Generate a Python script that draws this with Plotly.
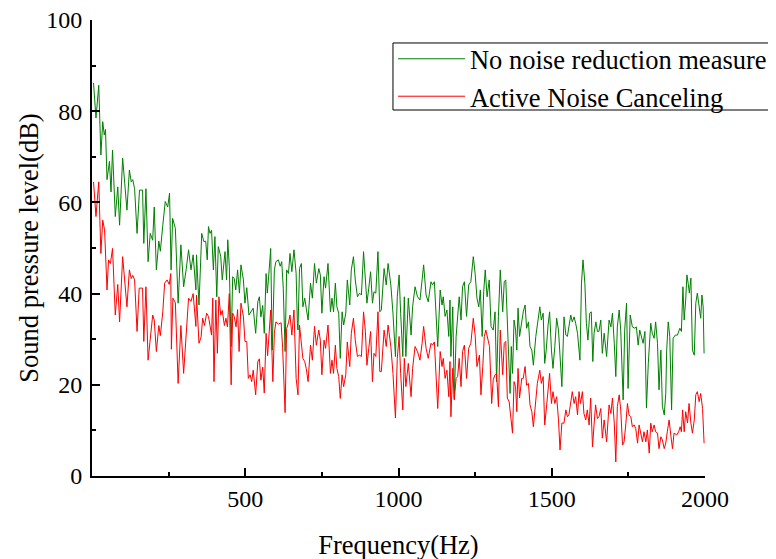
import plotly.graph_objects as go

# ---- data ----
green_freq = [5, 13, 22, 29, 35, 40, 44, 49, 57, 62, 67, 76, 84, 90, 100, 114, 122, 128, 133, 139,
              147, 155, 165, 169, 176, 183, 190, 198, 203, 210, 218, 223, 231, 239, 247, 253, 258, 263, 272, 281,
              290, 299, 307, 315, 323, 330, 339,
              341, 349, 358, 365, 371, 376, 380, 385, 390, 396, 401, 407, 412, 420, 425, 434, 439, 443, 448, 454,
              459, 464, 469, 475, 481, 486, 494, 499, 505, 512, 519, 526, 534, 541, 546, 551, 557, 562, 568, 572,
              578, 583, 588, 595, 600, 608, 614, 619, 624, 630, 635, 641, 646, 652, 659, 666, 670,
              672, 677, 683, 688, 694, 699, 705, 713, 719, 726, 732, 740, 745, 750, 757, 762, 770, 778, 783, 788,
              794, 799, 805, 810, 816, 821, 828, 833, 841, 846, 853, 859, 866, 873, 879, 886, 892, 897, 903, 909,
              915, 920, 926, 933, 939, 944, 953, 960, 966, 975, 982, 990, 996, 1002, 1007,
              1014, 1019, 1024, 1032, 1041, 1046, 1054, 1062, 1070, 1077, 1082, 1090, 1097, 1106, 1111, 1117, 1122,
              1128, 1136, 1142, 1146, 1152, 1158, 1164, 1168, 1171, 1177, 1182, 1188, 1193, 1198, 1204, 1209, 1215,
              1222, 1229, 1236, 1244, 1250, 1256, 1262, 1267, 1273, 1278, 1283, 1289, 1296, 1302, 1309, 1315, 1320,
              1326, 1332, 1340, 1345,
              1350, 1355, 1361, 1364, 1368, 1372, 1377, 1382, 1386, 1390, 1395, 1401, 1407, 1413, 1418, 1424, 1429,
              1435, 1440, 1448, 1453, 1461, 1466, 1472, 1477, 1482, 1488, 1493, 1499, 1504, 1510, 1516, 1522, 1527,
              1533, 1540, 1546, 1551, 1556, 1562, 1567, 1573, 1578, 1584, 1592, 1597, 1602, 1608, 1613, 1618, 1624,
              1629, 1634, 1638, 1644, 1649, 1654, 1660, 1665,
              1671, 1679, 1687, 1693, 1698, 1704, 1709, 1714, 1720, 1725, 1733, 1738, 1744, 1749, 1756, 1763, 1771,
              1776, 1782, 1787, 1793, 1798, 1804, 1809, 1815, 1823, 1828, 1834, 1839, 1845, 1850, 1856, 1861, 1867,
              1872, 1875, 1880, 1885, 1891, 1896, 1903, 1910, 1918, 1923, 1928, 1932, 1937, 1941, 1945, 1949, 1954,
              1959, 1965, 1970, 1975, 1981, 1986, 1990, 1994, 1997]
green_spl = [86.2, 78.5, 85.7, 70.4, 77.7, 74.8, 76, 65, 69, 62.3, 71.5, 56.9, 63.4, 55, 69.7, 58.3, 67.1, 64.5, 65, 63,
             53.2, 62.7, 62.7, 51, 63, 47, 53.2, 51.7, 59, 45.2, 51.5, 49.3, 55, 60.2, 59, 62, 45.2, 56.5, 54.3, 37.9,
             50.7, 41.5, 45.2, 49.6, 45.2, 48.5, 40.8,
             48.5, 37.5, 53.2, 51.4, 51.5, 47.4, 54.7, 53.2, 53.9, 45.2, 52.5, 39.3, 50.3, 48.2, 43, 49.2, 43, 51.8, 45.9, 28.4,
             43.7, 43.3, 40.8, 45.2, 40.1, 46.3, 43, 37.9, 41.3, 35.3, 36, 36.8, 31.3, 38.2, 39.3, 34.9, 37.4, 31.3, 44.4, 40.1,
             45.2, 49.9, 27.6, 45.2, 47, 47.4, 46, 47, 41.2, 27.3, 45.2, 44.4, 48.8, 44.8, 49.6, 44.4, 33.5,
             32.0, 45.5, 46.6, 37.1, 39, 36.8, 34.2, 42.3, 39, 46.6, 42.3, 45.5, 44.1, 35.7, 43.7, 41.2, 46.6, 36.0, 39, 36,
             42.3, 37.1, 35.7, 25.8, 36, 33.1, 35.7, 43, 37.5, 45.2, 48.1, 43, 39.3, 40.1, 39.7, 49.2, 43, 37.9, 41.2, 44.8,
             37.9, 40.4, 40.1, 49.2, 36, 36.4, 45.5, 41.9, 46.6, 41.9, 35.7, 26.2, 39.3, 44.1, 35.7,
             26.2, 39.3, 26.2, 39, 30.9, 37.1, 41.5, 39.3, 38.6, 43, 46.3, 39.7, 38.2, 42.6, 41.9, 42.6, 35.3,
             28.4, 40.8, 37.5, 39.3, 35, 36.4, 30.6, 38.6, 26.2, 37.1, 17.0, 30.6, 34.2, 39.3, 34.2, 41.5, 42.6,
             35, 41.9, 42.6, 48.1, 44.4, 39, 37.1, 40.8, 30.6, 40.4, 45.2, 39.3, 43, 32.8, 32, 36, 20.7,
             35, 45.2, 36, 42.6,
             43, 34.6, 25.8, 18.1, 28.4, 22.5, 34.2, 32, 27.6, 36.8, 30.6, 33.8, 36, 37.5, 32.4, 33.8, 28.4,
             27.6, 24.3, 30.6, 33.1, 37.1, 34.2, 35.7, 24.7, 27.6, 33.1, 36, 27.6, 23.6, 28.4, 34.6, 32, 26.9,
             19.6, 34.9, 30.9, 30.6, 32.7, 35.3, 33.8, 34.9, 33.5, 31.3, 25.4, 42.3, 47.4, 42.3, 33.5, 29.8, 35.7,
             36, 25.1, 31.3, 33.8, 31.7, 31.7, 34.2, 26.9,
             31.3, 26.2, 34.2, 32.7, 35.7, 29.1, 21.8, 32.7, 36.4, 32, 16.7, 32, 37.9, 19.2, 35.3, 32.7, 32.4,
             32.7, 28.7, 32, 30.6, 29.1, 31.7, 14.9, 24.7, 33.5, 31.3, 30.2, 33.8, 29.1, 18.9, 27.6, 15.2, 13.4,
             18.1, 27.6, 33.8, 30.6, 14.5, 30.2, 30.9, 30.9, 32.4, 31.7, 41.5, 34.2, 38.6, 44.1, 42.3, 40.1, 43.4,
             27.6, 26.5, 37.9, 40.1, 37.5, 34.6, 39.7, 37.1, 26.9]

red_freq = [5, 13, 22, 29, 35, 41, 49, 54, 60, 67, 76, 84, 90, 100, 114, 122, 128, 133, 139, 147,
            154, 165, 169, 176, 183, 190, 198, 203, 210, 218, 223, 231, 237, 245, 252, 257, 259, 264, 272, 281,
            290, 299, 308, 315, 323, 330, 339,
            341, 349, 356, 361, 367, 374, 380, 385, 390, 394, 398, 404, 409, 414, 420, 425, 432, 437, 442, 448,
            454, 459, 464, 470, 475, 480, 486, 494, 499, 505, 510, 516, 521, 526, 534, 541, 546, 551, 557, 562,
            568, 573, 578, 583, 590, 595, 600, 608, 617, 622, 630, 635, 641, 646, 652, 659, 666,
            672, 677, 683, 688, 694, 699, 705, 713, 719, 726, 732, 740, 745, 750, 757, 762, 770, 778, 783, 788,
            794, 799, 805, 810, 816, 821, 828, 833, 841, 846, 853, 859, 866, 873, 879, 886, 892, 897, 903, 909,
            915, 920, 926, 933, 939, 944, 953, 960, 966, 975, 982, 990, 996, 1002, 1007,
            1014, 1019, 1024, 1032, 1041, 1046, 1054, 1062, 1070, 1077, 1082, 1090, 1097, 1106, 1111, 1117, 1122,
            1128, 1136, 1142, 1146, 1152, 1158, 1164, 1168, 1171, 1177, 1182, 1188, 1193, 1198, 1204, 1209, 1215,
            1222, 1229, 1236, 1244, 1250, 1256, 1264, 1269, 1275, 1280, 1285, 1291, 1297, 1304, 1309, 1315, 1320,
            1326, 1332, 1340, 1345,
            1350, 1355, 1361, 1366, 1372, 1377, 1382, 1386, 1390, 1395, 1402, 1407, 1413, 1418, 1424, 1429, 1435,
            1440, 1448, 1453, 1461, 1466, 1472, 1477, 1482, 1488, 1493, 1499, 1504, 1510, 1516, 1522, 1527, 1533,
            1540, 1546, 1551, 1556, 1562, 1567, 1573, 1578, 1584, 1589, 1594, 1600, 1605, 1611, 1616, 1622, 1627,
            1633, 1638, 1643, 1649, 1654, 1660, 1665,
            1671, 1679, 1687, 1693, 1698, 1704, 1709, 1714, 1720, 1725, 1731, 1736, 1742, 1747, 1752, 1758, 1763,
            1769, 1774, 1780, 1785, 1791, 1796, 1801, 1807, 1812, 1818, 1823, 1828, 1834, 1839, 1845, 1850, 1856,
            1861, 1867, 1872, 1877, 1883, 1889, 1894, 1899, 1908, 1914, 1919, 1923, 1927, 1932, 1937, 1943, 1948,
            1954, 1959, 1965, 1970, 1975, 1981, 1986, 1992, 1997]
red_spl = [64.5, 56.9, 64.5, 48.8, 56.1, 54, 40.8, 47.4, 46.6, 49.9, 35.3, 42, 33.8, 48.1, 37.1, 45.2, 43.3, 44, 43, 31.7,
           41.2, 41.2, 29.5, 41.5, 25.4, 30.5, 35.3, 34.2, 27.3, 33, 30.8, 36, 42.3, 43, 42, 44.4, 27.8, 39, 38, 20.3,
           33, 22.5, 31.1, 39, 38.3, 40, 32.8,
           39.7, 29.1, 30.5, 34.6, 33, 35.7, 35, 33, 30.9, 39, 20.7, 38.6, 26.9, 39.3, 35.3, 36.3, 33, 34.6, 32.7, 40,
           20, 35.7, 35, 32.7, 36.5, 27.3, 37.9, 35, 29.5, 29.5, 21.4, 22.2, 20.7, 23.2, 17.8, 25.1, 25.7, 21, 23.9, 18.2,
           31.3, 26.4, 31.3, 36.4, 20.7, 31.3, 33.8, 33.3, 33.6, 28.1, 13.9, 32.3, 33.6, 35.3, 30.9, 36.4, 21.4,
           17.8, 33.1, 29.8, 25.8, 25.1, 23.6, 20.7, 28.7, 25.4, 32.8, 28.7, 32, 29.8, 22.2, 29.8, 28, 33.1, 22.5, 25.4, 22.5,
           28.7, 23.6, 21.8, 17.0, 22.2, 19.6, 22.2, 29.4, 24, 31.3, 34.6, 29.8, 26.2, 26.5, 26.2, 36.0, 31.7, 24.3, 28, 31.7,
           20.7, 26.9, 26.2, 36, 22.9, 22.9, 32, 28.4, 33.1, 28.4, 22.5, 12.7, 25.8, 30.6, 22.5,
           14.5, 25.8, 19.6, 24.7, 17.4, 23.6, 28.4, 27.3, 25.4, 29.1, 32.8, 28, 25.8, 29.1, 28.7, 29.4, 22.5,
           14.8, 27.3, 24, 25.8, 21.4, 23.2, 17.4, 25.1, 13.0, 23.6, 16.7, 21.4, 21.8, 25.8, 19.6, 27.3, 28.7,
           21.4, 28, 29.1, 34.6, 30.9, 24, 26.5, 17.8, 24, 30.6, 32, 29.8, 28.4, 15.9, 21.1, 22.2, 22.5,
           15.2, 32, 22.2, 29.1,
           29.5, 17.1, 16.3, 12.6, 9.4, 20.7, 19.6, 14.1, 23.6, 17.1, 21.4, 21.4, 24, 19.9, 20.3, 15.6, 14.1,
           10.8, 16.7, 20.3, 23.2, 20.3, 21.8, 11.2, 14.5, 19.6, 22.5, 15.9, 18.5, 15.9, 17.4, 12.3, 5.7, 11.6,
           11.6, 14.5, 13, 13.4, 15.9, 18.5, 15.9, 17.4, 13.4, 18.5, 15.9, 18.5, 13.7, 12.3, 14.5, 11.2, 17.1,
           6.4, 11.2, 15.6, 12.6, 13, 14.8, 8.3,
           12.3, 7.5, 15.6, 13.7, 17.1, 11.6, 3.1, 15.2, 17.8, 14.5, 6.8, 7.5, 11.6, 15.9, 13.4, 13, 10.8,
           11.2, 10.4, 7.2, 11.2, 8.6, 7.5, 9.7, 7.5, 10.1, 5, 11.6, 9.7, 11.2, 9.7, 9.4, 6, 8.6,
           7.9, 6, 7.2, 9.7, 12.3, 8.6, 6, 9.4, 9, 9.7, 10.8, 9.7, 14.5, 9.7, 14.1, 11.6, 15.9,
           11.6, 9.4, 12.3, 17.8, 18.5, 16.3, 18.1, 14.8, 7.2]

series_names = ["No noise reduction measure", "Active Noise Canceling"]
x_tickvals = [500, 1000, 1500, 2000]
y_tickvals = [0, 20, 40, 60, 80, 100]

FONT = "Liberation Serif, Times New Roman, serif"

fig = go.Figure()
fig.add_trace(go.Scatter(x=green_freq, y=green_spl, mode="lines", name=series_names[0],
                         line=dict(color="#008000", width=1)))
fig.add_trace(go.Scatter(x=red_freq, y=red_spl, mode="lines", name=series_names[1],
                         line=dict(color="#ff0000", width=1)))

axis_common = dict(showgrid=False, zeroline=False, showline=True, linecolor="black", linewidth=2,
                   ticks="inside", ticklen=8, tickwidth=1.5, tickcolor="black", mirror=False,
                   ticklabeloverflow="allow",
                   tickfont=dict(family=FONT, size=24, color="black"))

fig.update_xaxes(range=[0, 2000], tickmode="array", tickvals=x_tickvals,
                 minor=dict(ticks="inside", dtick=250, tick0=0, ticklen=4, tickcolor="black", tickwidth=1.5),
                 title=dict(text="Frequency(Hz)", font=dict(family=FONT, size=26.5, color="black"), standoff=25),
                 **axis_common)
fig.update_yaxes(range=[0, 100], tickmode="array", tickvals=y_tickvals, ticklabelstandoff=3,
                 minor=dict(ticks="inside", dtick=10, tick0=0, ticklen=4, tickcolor="black", tickwidth=1.5),
                 title=dict(text="Sound pressure level(dB)", font=dict(family=FONT, size=26.5, color="black"),
                            standoff=0),
                 **axis_common)

# legend frame (extends past the right edge as in the reference)
fig.add_shape(type="rect", xref="paper", yref="paper", x0=0.491, x1=1.2, y0=0.8026, y1=0.9496,
              line=dict(color="black", width=1), fillcolor="rgba(0,0,0,0)", layer="above")

fig.update_layout(
    width=776, height=559,
    margin=dict(l=84, r=79, t=12, b=91, autoexpand=False),
    paper_bgcolor="white", plot_bgcolor="white",
    showlegend=True,
    legend=dict(x=0.491, y=0.967, xanchor="left", yanchor="top",
                borderwidth=0, bgcolor="rgba(0,0,0,0)",
                font=dict(family=FONT, size=26.5, color="black"),
                tracegroupgap=0, itemwidth=67),
)

fig.write_html("out.html")
